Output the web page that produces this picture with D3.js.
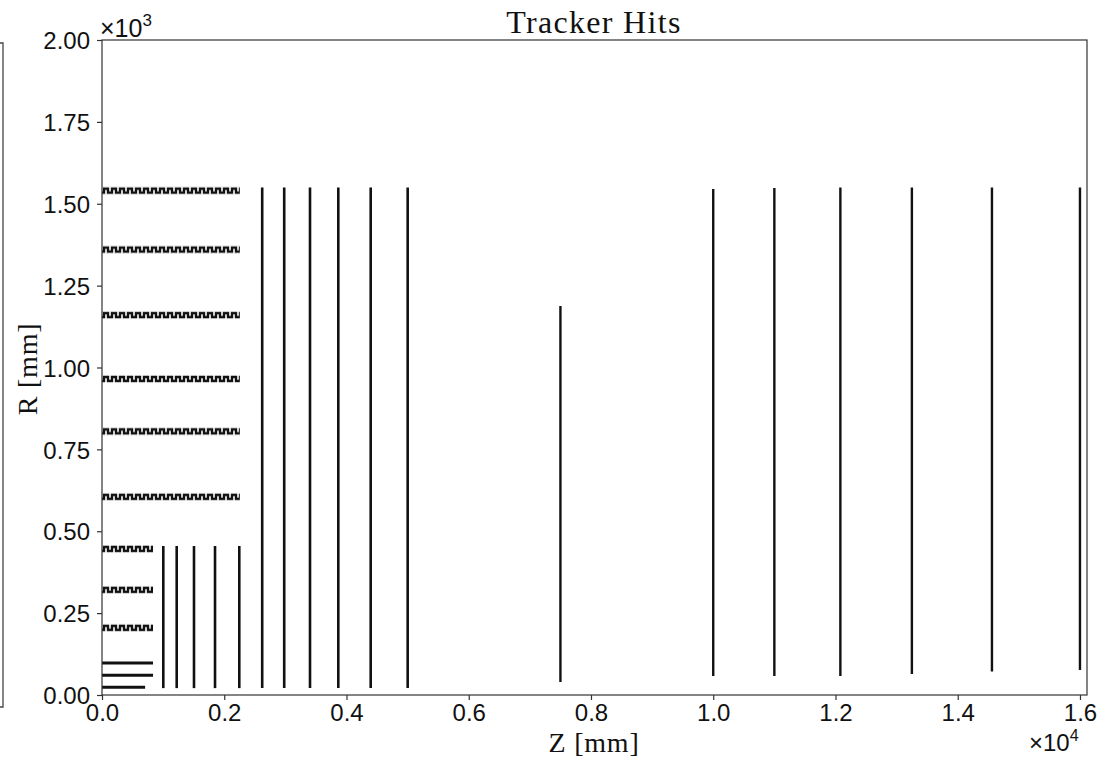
<!DOCTYPE html>
<html lang="en">

<head>
	<meta charset="UTF-8">
	<title>Tracker Hits</title>
	<script type="text/javascript" src="https://cdn.jsdelivr.net/npm/d3@7/dist/d3.min.js" charset="UTF-8"></script>
	<style>
		body { margin: 0; background: #fff; }
	</style>
</head>

<body>
	<script type="text/javascript">
	// flat barrel layers (innermost), radius and half length in mm
	let flatR = [24, 60, 98]
	let flatZ = [705, 835, 835]

	// double-sided barrel layers (staggered modules)
	let stagR = [205, 321, 446, 605, 805, 965, 1160, 1360, 1540]
	let stagZ = [835, 835, 835, 2255, 2255, 2255, 2255, 2255, 2255]

	// endcap disks: z position, inner and outer radius
	let diskZ = [1003, 1222, 1505, 1849, 2246, 2621, 2981, 3403, 3866, 4396, 5001,
		7500, 10000, 11000, 12080, 13250, 14560, 16000]
	let diskRmin = [21, 21, 21, 21, 21, 21, 21, 21, 21, 21, 21,
		40, 58, 58, 58, 64, 72, 76]
	let diskRmax = [455, 455, 455, 455, 455, 1550, 1550, 1550, 1550, 1550, 1550,
		1188, 1545, 1548, 1550, 1550, 1550, 1550]

	let xTicks = [0, 2000, 4000, 6000, 8000, 10000, 12000, 14000, 16000]
	let yTicks = [0, 250, 500, 750, 1000, 1250, 1500, 1750, 2000]

	let width = 1099,
		height = 758;
	let m = { left: 102, right: 1087, top: 40, bottom: 695 }

	let svg = d3.select('body').append('svg')
		.attr('width', width)
		.attr('height', height)

	let x = d3.scaleLinear()
		.domain([0, 16115])
		.range([m.left, m.right])

	let y = d3.scaleLinear()
		.domain([0, 2000])
		.range([m.bottom, m.top])

	// square-wave pattern for the staggered layers, one per layer so it lines up
	let defs = svg.append('defs')
	stagR.forEach((r, i) => {
		let pat = defs.append('pattern')
			.attr('id', 'stag' + i)
			.attr('patternUnits', 'userSpaceOnUse')
			.attr('x', x(0))
			.attr('y', y(r) - 4)
			.attr('width', 8)
			.attr('height', 8)
		pat.append('path')
			.attr('d', 'M0,6 H2 V2 H6 V6 H8')
			.attr('fill', 'none')
			.attr('stroke', '#111')
			.attr('stroke-width', 2.4)
	})

	// part of a neighbouring panel at the left edge
	svg.append('path')
		.attr('d', 'M0,43 H3 V707 H0')
		.attr('fill', 'none')
		.attr('stroke', '#444')
		.attr('stroke-width', 1.3)

	let plot = svg.append('g')

	plot.selectAll('line.flat')
		.data(flatR)
		.enter()
		.append('line')
		.attr('class', 'flat')
		.attr('x1', x(0))
		.attr('x2', (d, i) => x(flatZ[i]))
		.attr('y1', d => y(d))
		.attr('y2', d => y(d))
		.attr('stroke', '#111')
		.attr('stroke-width', 3)

	plot.selectAll('rect.stag')
		.data(stagR)
		.enter()
		.append('rect')
		.attr('class', 'stag')
		.attr('x', x(0))
		.attr('width', (d, i) => x(stagZ[i]) - x(0))
		.attr('y', d => y(d) - 4)
		.attr('height', 8)
		.attr('fill', (d, i) => `url(#stag${i})`)

	plot.selectAll('line.disk')
		.data(diskZ)
		.enter()
		.append('line')
		.attr('class', 'disk')
		.attr('x1', d => x(d))
		.attr('x2', d => x(d))
		.attr('y1', (d, i) => y(diskRmin[i]))
		.attr('y2', (d, i) => y(diskRmax[i]))
		.attr('stroke', '#111')
		.attr('stroke-width', (d, i) => i < 11 ? 2.6 : 2.4)

	// frame
	svg.append('rect')
		.attr('x', m.left)
		.attr('y', m.top)
		.attr('width', m.right - m.left)
		.attr('height', m.bottom - m.top)
		.attr('fill', 'none')
		.attr('stroke', '#333')
		.attr('stroke-width', 1.2)

	let axisBottom = d3.axisBottom(x)
		.tickValues(xTicks)
		.tickSize(5)
		.tickSizeOuter(0)
		.tickPadding(4)
		.tickFormat(d => (d / 10000).toFixed(1))

	let axisLeft = d3.axisLeft(y)
		.tickValues(yTicks)
		.tickSize(5)
		.tickSizeOuter(0)
		.tickPadding(7)
		.tickFormat(d => (d / 1000).toFixed(2))

	let gx = svg.append('g')
		.attr('transform', `translate(0,${m.bottom})`)
		.call(axisBottom)
	let gy = svg.append('g')
		.attr('transform', `translate(${m.left},0)`)
		.call(axisLeft)

	for (let g of [gx, gy]) {
		g.select('.domain').remove()
		g.selectAll('line').attr('stroke', '#333').attr('stroke-width', 1.2)
		g.selectAll('text')
			.attr('fill', '#111')
			.style('font-family', '"Liberation Sans", Arial, sans-serif')
			.style('font-size', '24px')
	}
	gy.selectAll('text').attr('dy', '0.36em')

	let serif = '"Liberation Serif", "DejaVu Serif", serif'

	svg.append('text')
		.attr('x', 594)
		.attr('y', 33)
		.attr('text-anchor', 'middle')
		.style('font-family', serif)
		.style('font-size', '32px')
		.style('letter-spacing', '1.3px')
		.attr('fill', '#111')
		.text('Tracker Hits')

	svg.append('text')
		.attr('x', 594)
		.attr('y', 752)
		.attr('text-anchor', 'middle')
		.style('font-family', serif)
		.style('font-size', '28px')
		.style('letter-spacing', '0.8px')
		.attr('fill', '#111')
		.text('Z [mm]')

	svg.append('text')
		.attr('transform', 'translate(37,369) rotate(-90)')
		.attr('text-anchor', 'middle')
		.style('font-family', serif)
		.style('font-size', '28px')
		.style('letter-spacing', '0.8px')
		.attr('fill', '#111')
		.text('R [mm]')

	// offset labels
	let off3 = svg.append('text')
		.attr('x', 100)
		.attr('y', 37)
		.style('font-family', '"Liberation Sans", Arial, sans-serif')
		.style('font-size', '25px')
		.attr('fill', '#111')
	off3.append('tspan').text('\u00d710')
	off3.append('tspan').attr('dy', -11).style('font-size', '17px').text('3')

	let off4 = svg.append('text')
		.attr('x', 1029)
		.attr('y', 751)
		.style('font-family', '"Liberation Sans", Arial, sans-serif')
		.style('font-size', '24px')
		.attr('fill', '#111')
	off4.append('tspan').text('\u00d710')
	off4.append('tspan').attr('dy', -10).style('font-size', '16px').text('4')
	</script>
</body>

</html>
